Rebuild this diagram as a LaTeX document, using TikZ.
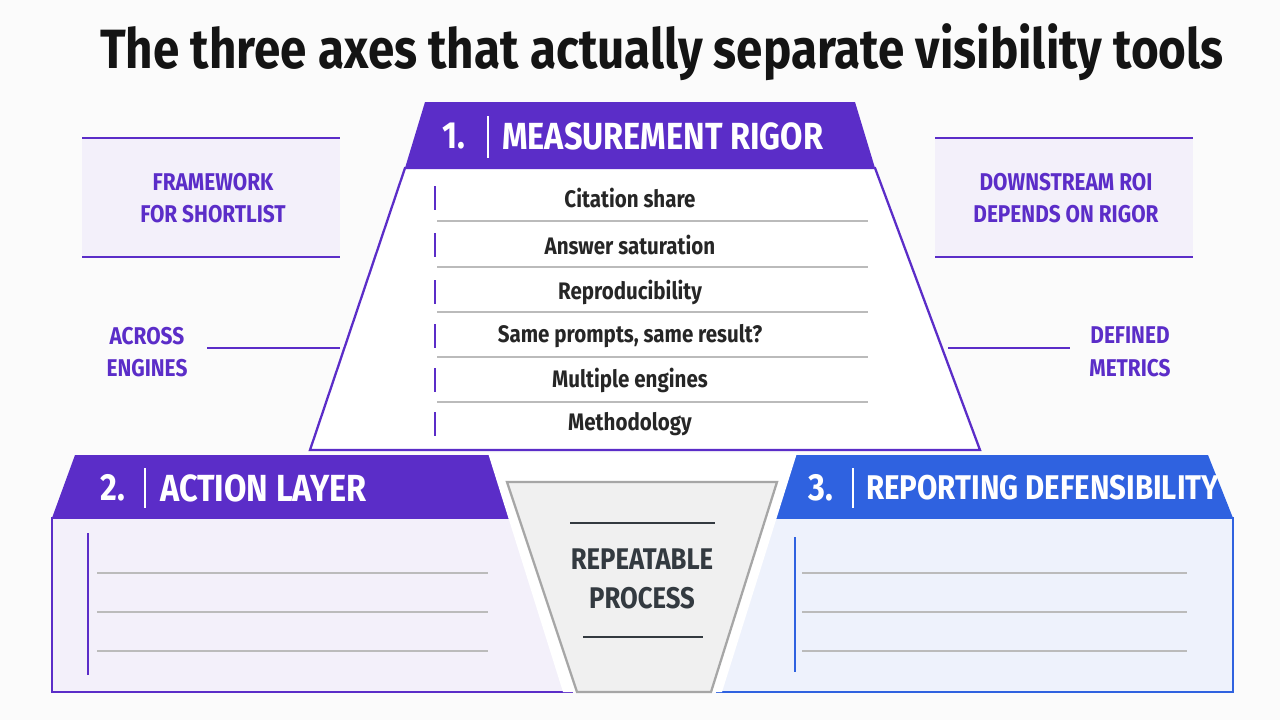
\documentclass[tikz,border=0pt]{standalone}
\usepackage{fontspec}
\setmainfont{Fira Sans}[FakeStretch=0.86]
\begin{document}
\definecolor{purp}{HTML}{5B2DC8}
\definecolor{blu}{HTML}{2F62E0}
\definecolor{lav}{HTML}{F3F0FA}
\definecolor{lblu}{HTML}{EEF2FC}
\definecolor{gline}{HTML}{BBBBBB}
\definecolor{dark}{HTML}{333A40}
\begin{tikzpicture}[x=0.02cm,y=-0.02cm,
  lbl/.style={text=purp,font=\bfseries\fontsize{13.8}{18.5}\selectfont,align=center},
  item/.style={font=\bfseries\fontsize{13.6}{15}\selectfont,text=black!85},
  hdr/.style={text=white,font=\bfseries\fontsize{21.5}{24}\selectfont,anchor=west},
  sep/.style={gline,line width=0.6pt}]
\useasboundingbox[fill=white!97!gray] (0,0) rectangle (1280,720);
\node[font=\bfseries\fontsize{31.5}{36}\selectfont,text=black!92] (title) at (662,52) {The three axes that actually separate visibility tools};
% side boxes
\fill[lav] (82,138) rectangle (340,257);
\draw[purp,line width=0.7pt] (82,138)--(340,138) (82,257)--(340,257);
\node[lbl] (fw) at (213,198) {FRAMEWORK\\FOR SHORTLIST};
\fill[lav] (935,138) rectangle (1193,257);
\draw[purp,line width=0.7pt] (935,138)--(1193,138) (935,257)--(1193,257);
\node[lbl] (roi) at (1066,198) {DOWNSTREAM ROI\\DEPENDS ON RIGOR};
\node[lbl] (ae) at (147,352) {ACROSS\\ENGINES};
\coordinate (ae1) at (207,348); \coordinate (ae2) at (340,348);
\draw[purp,line width=0.7pt] (ae1)--(ae2);
\node[lbl] (dm) at (1130,352) {DEFINED\\METRICS};
\coordinate (dm1) at (948,348); \coordinate (dm2) at (1070,348);
\draw[purp,line width=0.7pt] (dm1)--(dm2);
% top trapezoid
\draw[purp,line width=1.3pt,fill=white] (405,168)--(875,168)--(980,450)--(310,450)--cycle;
\fill[purp] (425,102)--(855,102)--(875,168)--(405,168)--cycle;
\node[hdr] (h1) at (436,136) {1.};
\draw[white,line width=0.8pt] (488,116)--(488,158);
\node[hdr] (h1b) at (496,136) {MEASUREMENT RIGOR};
\foreach \y/\t in {198/Citation share,245/Answer saturation,292/Reproducibility,336/{Same prompts, same result?},380/Multiple engines,424/Methodology}{
  \draw[purp,line width=1.5pt] (435,\y-12)--(435,\y+12);
  \node[item] at (630,\y) {\t};}
\foreach \y in {221,267,312,357,402} \draw[sep] (437,\y)--(868,\y);
% action layer
\fill[purp] (75,455)--(490,455)--(517,518)--(52,518)--cycle;
\draw[purp,line width=1.3pt,fill=lav] (52,518) rectangle (572,692);
\node[hdr] (h2) at (94,488) {2.};
\draw[white,line width=0.8pt] (145,468)--(145,508);
\node[hdr] (h2b) at (154,488) {ACTION LAYER};
\draw[purp,line width=1.2pt] (88,533)--(88,675);
\foreach \y in {573,612,651} \draw[sep] (97,\y)--(488,\y);
% reporting
\fill[blu] (790,455)--(1208,455)--(1233,518)--(765,518)--cycle;
\draw[blu,line width=1.3pt,fill=lblu] (717,518) rectangle (1233,692);
\node[hdr] (h3) at (802,488) {3.};
\draw[white,line width=0.8pt] (853,468)--(853,508);
\node[hdr,font=\bfseries\fontsize{19.5}{22}\selectfont] (h3b) at (860,488) {REPORTING DEFENSIBILITY};
\draw[blu,line width=1.2pt] (795,537)--(795,672);
\foreach \y in {573,612,651} \draw[sep] (802,\y)--(1187,\y);
% center funnel
\fill[white] (488,453)--(797,453)--(722,692)--(563,692)--cycle;
\draw[gray!70,line width=1.3pt,fill=gray!12] (507,482)--(777,482)--(711,692)--(577,692)--cycle;
\draw[dark,line width=1pt] (570,523)--(715,523) (583,637)--(703,637);
\node[text=dark,font=\bfseries\fontsize{17}{22}\selectfont,align=center] (rp) at (642,579) {REPEATABLE\\PROCESS};
\end{tikzpicture}
\end{document}
